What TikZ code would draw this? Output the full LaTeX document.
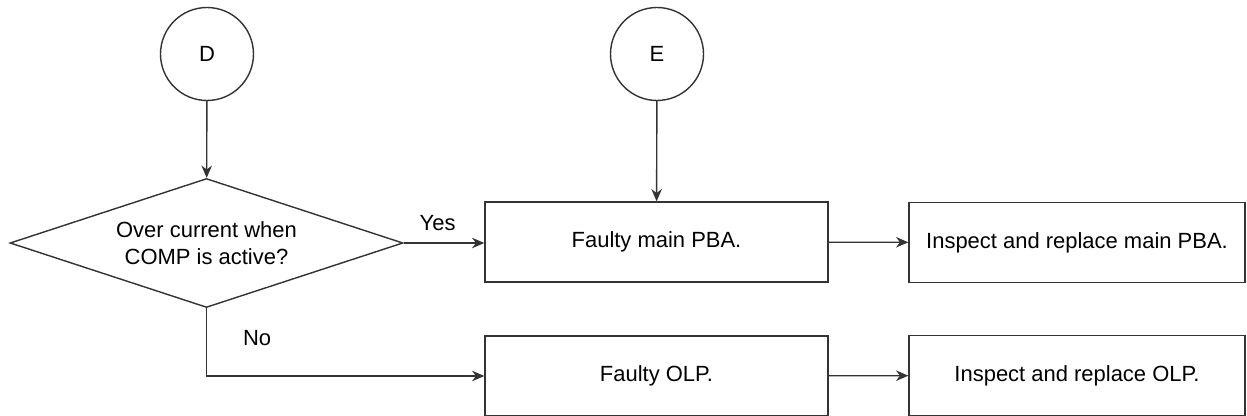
\documentclass[tikz,border=0pt]{standalone}
\usepackage{fontspec}
\setmainfont{Liberation Sans}
\usetikzlibrary{shapes.geometric,arrows.meta}

\begin{document}
\begin{tikzpicture}[x=1cm,y=1cm,>={Stealth[length=7pt,width=6pt]},line width=0.8pt,draw=black!80,font=\fontsize{12.5}{15}\selectfont]
  \tikzstyle{conn}=[draw, circle, minimum size=1.86cm, inner sep=0pt]
  \tikzstyle{decide}=[draw, diamond, aspect=3, inner sep=0pt, minimum width=7.86cm, minimum height=2.58cm, align=center]
  \tikzstyle{box}=[draw, minimum width=6.86cm, minimum height=1.6cm, inner sep=0pt]
  \tikzstyle{act}=[draw, minimum width=6.72cm, minimum height=1.6cm, inner sep=0pt]

  \useasboundingbox (0,0) rectangle (24.94,-8.32);

  \node[conn] (d) at (4.14,-1.08) {D};
  \node[conn] (e) at (13.14,-1.08) {E};

  \node[decide] (overcur) at (4.13,-4.86) {Over current when\\COMP is active?};

  \node[box] (mainpba) at (13.13,-4.84) {Faulty main PBA.};
  \node[act] (fixpba) at (21.54,-4.85) {Inspect and replace main PBA.};
  \node[box] (olp) at (13.13,-7.52) {Faulty OLP.};
  \node[act] (fixolp) at (21.54,-7.51) {Inspect and replace OLP.};

  \draw[->] (d) -- (overcur);
  \draw[->] (e) -- (mainpba);
  \draw[->] (overcur.east) -- node[above=3pt, pos=0.42] {Yes} (overcur.east -| mainpba.west);
  \draw[->] (overcur.south) |- node[pos=0.22, right=0.6cm] {No} (olp.west);
  \draw[->] (mainpba) -- (fixpba);
  \draw[->] (olp) -- (fixolp);
\end{tikzpicture}
\end{document}
